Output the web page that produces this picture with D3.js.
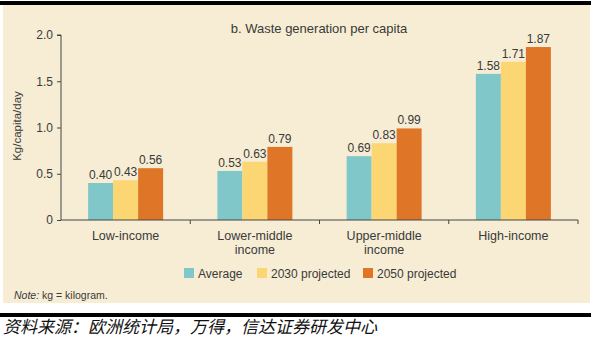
<!DOCTYPE html>
<html><head><meta charset="utf-8">
<script src="https://cdn.jsdelivr.net/npm/d3@7"></script>
<style>body{margin:0;background:#fff}svg{display:block}</style>
</head><body>
<script>
const categories = [["Low-income"], ["Lower-middle", "income"], ["Upper-middle", "income"], ["High-income"]];
const seriesNames = ["Average", "2030 projected", "2050 projected"];
const average = [0.40, 0.53, 0.69, 1.58];
const proj2030 = [0.43, 0.63, 0.83, 1.71];
const proj2050 = [0.56, 0.79, 0.99, 1.87];
const yTicks = [0, 0.5, 1.0, 1.5, 2.0];
const yTickLabels = ["0", "0.5", "1.0", "1.5", "2.0"];
const colors = ["#80c7c9", "#fbd673", "#df7627"];
const seriesValues = [average, proj2030, proj2050];

const W = 597, H = 337;
const svg = d3.select("body").append("svg").attr("width", W).attr("height", H);
const font = "Liberation Sans, Arial, sans-serif";
const txt = "#3a3a3a";

// frame
svg.append("rect").attr("x", 0).attr("y", 1).attr("width", 591).attr("height", 4).attr("fill", "#000");
svg.append("rect").attr("x", 3).attr("y", 5).attr("width", 587).attr("height", 298).attr("fill", "#f6edd4");
svg.append("rect").attr("x", 0).attr("y", 313).attr("width", 591).attr("height", 4).attr("fill", "#000");

const x0 = d3.scaleBand().domain(d3.range(categories.length)).range([61, 578]).paddingInner(0).paddingOuter(0);
const x1 = d3.scaleBand().domain(d3.range(seriesNames.length)).range([0, 75]);
const y = d3.scaleLinear().domain([0, 2]).range([220, 35]);

// title
svg.append("text").attr("x", 319).attr("y", 33).attr("text-anchor", "middle")
  .attr("font-family", font).attr("font-size", 13).attr("fill", txt).text("b. Waste generation per capita");

// y axis
const yAxis = d3.axisLeft(y).tickValues(yTicks).tickFormat((d, i) => yTickLabels[i]).tickSize(4).tickPadding(4);
const gy = svg.append("g").attr("transform", "translate(61,0)").call(yAxis);
gy.select(".domain").attr("stroke", "#444").attr("d", "M-4,35H0V220");
gy.selectAll(".tick line").attr("stroke", "#444");
gy.selectAll(".tick text").attr("font-family", font).attr("font-size", 12).attr("fill", txt);

svg.append("text").attr("transform", "translate(21,126) rotate(-90)").attr("text-anchor", "middle")
  .attr("font-family", font).attr("font-size", 11.5).attr("fill", txt).text("Kg/capita/day");

// bars
const groups = svg.append("g").selectAll("g").data(categories).join("g")
  .attr("transform", (d, i) => `translate(${x0(i) + (x0.bandwidth() - 75) / 2},0)`);
groups.each(function (c, ci) {
  const g = d3.select(this);
  seriesValues.forEach((vals, si) => {
    g.append("rect").attr("x", x1(si)).attr("y", y(vals[ci])).attr("width", x1.bandwidth())
      .attr("height", y(0) - y(vals[ci])).attr("fill", colors[si]);
    g.append("text").attr("x", x1(si) + x1.bandwidth() / 2).attr("y", y(vals[ci]) - 4)
      .attr("text-anchor", "middle").attr("font-family", font).attr("font-size", 12)
      .attr("fill", txt).text(vals[ci].toFixed(2));
  });
});

// x axis
const xAxisLine = svg.append("g");
xAxisLine.append("line").attr("x1", 61).attr("x2", 578).attr("y1", 220).attr("y2", 220).attr("stroke", "#444");
const boundaries = d3.range(categories.length + 1).map(i => i < categories.length ? x0(i) : x0(i - 1) + x0.bandwidth());
xAxisLine.selectAll("line.t").data(boundaries.slice(1)).join("line").attr("class", "t")
  .attr("x1", d => d).attr("x2", d => d).attr("y1", 220).attr("y2", 224).attr("stroke", "#444");

svg.append("g").selectAll("text").data(categories).join("text")
  .attr("x", (d, i) => x0(i) + x0.bandwidth() / 2).attr("y", 240)
  .attr("text-anchor", "middle").attr("font-family", font).attr("font-size", 12.5).attr("fill", txt)
  .each(function (lines) {
    d3.select(this).selectAll("tspan").data(lines).join("tspan")
      .attr("x", d3.select(this).attr("x")).attr("dy", (d, j) => j ? 14 : 0).text(d => d);
  });

// legend
const legendX = [184, 257, 363];
const lg = svg.append("g").selectAll("g").data(seriesNames).join("g")
  .attr("transform", (d, i) => `translate(${legendX[i]},268)`);
lg.append("rect").attr("width", 10).attr("height", 10).attr("fill", (d, i) => colors[i]);
lg.append("text").attr("x", 14).attr("y", 9.5).attr("font-family", font).attr("font-size", 12)
  .attr("fill", txt).text(d => d);

// note
const note = svg.append("text").attr("x", 14).attr("y", 299).attr("font-family", font).attr("font-size", 10.5).attr("fill", txt);
note.append("tspan").attr("font-style", "italic").text("Note:");
note.append("tspan").text(" kg = kilogram.");

// source
svg.append("text").attr("x", 3).attr("y", 333).attr("font-family", "Noto Sans CJK SC")
  .attr("font-style", "italic").attr("font-size", 17).attr("fill", "#111")
  .text("资料来源：欧洲统计局，万得，信达证券研发中心");
</script>
</body></html>
